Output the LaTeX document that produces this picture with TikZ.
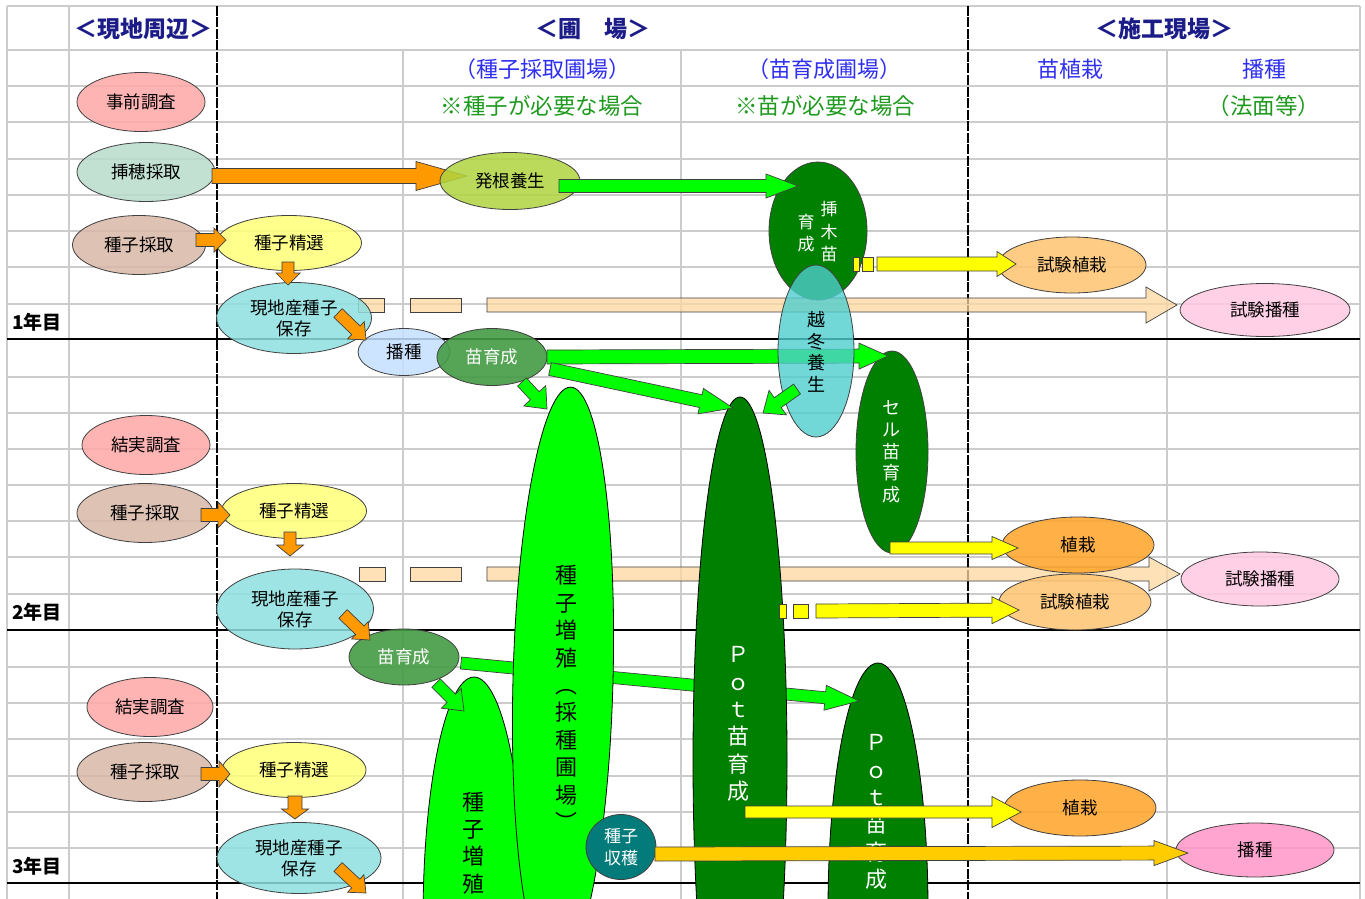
\documentclass[tikz,border=0pt]{standalone}
\usepackage{fontspec}
\setmainfont{Noto Sans CJK JP}
\usetikzlibrary{shapes.geometric,calc}
\definecolor{gridc}{HTML}{CCCCCC}
\definecolor{outl}{HTML}{404040}
\definecolor{cNavy}{HTML}{1C1C88}
\definecolor{cBlue}{HTML}{2F2FF0}
\definecolor{cNote}{HTML}{1E9A1E}
\definecolor{cPink}{HTML}{FFA8A8}
\definecolor{cSashi}{HTML}{B8DCCC}
\definecolor{cSaishu}{HTML}{D9B8A8}
\definecolor{cSeisen}{HTML}{FFFF77}
\definecolor{cHozon}{HTML}{8EE0E0}
\definecolor{cHashu}{HTML}{C4E0FF}
\definecolor{cNae}{HTML}{449B44}
\definecolor{cHakkon}{HTML}{B0D440}
\definecolor{cDark}{HTML}{008000}
\definecolor{cLime}{HTML}{00FF00}
\definecolor{cEttou}{HTML}{4FCDCD}
\definecolor{cTeal}{HTML}{037B7B}
\definecolor{cShikenS}{HTML}{FFC470}
\definecolor{cShoku}{HTML}{FFA428}
\definecolor{cShikenH}{HTML}{FFC8E2}
\definecolor{cHashuP}{HTML}{FF96C8}
\definecolor{cOrange}{HTML}{FF9900}
\definecolor{cYellow}{HTML}{FFFF00}
\definecolor{cGold}{HTML}{FFCC00}
\definecolor{cBeige}{HTML}{FFD7A0}
\newcommand{\barrow}[6]{%
  \path let \p1=(#2), \p2=(#3), \n1={atan2(\y2-\y1,\x2-\x1)}, \n2={veclen(\x2-\x1,\y2-\y1)} in
    \pgfextra{\xdef\bAng{\n1}\xdef\bLen{\n2}\xdef\bX{\x1}\xdef\bY{\y1}};
  \draw[#1, shift={(\bX,\bY)}, rotate=\bAng, x=1pt, y=1pt]
    (0,-#4) -- ({\bLen-#6},-#4) -- ({\bLen-#6},-#5) -- (\bLen,0) -- ({\bLen-#6},#5) -- ({\bLen-#6},#4) -- (0,#4) -- cycle;
}
\tikzset{
  gridl/.style={draw=gridc, line width=1.1pt},
  boldl/.style={draw=black, line width=2pt},
  dashl/.style={draw=black, line width=1.8pt, dash pattern=on 10pt off 1.5pt},
  hdr/.style={font=\fontsize{23}{27}\selectfont\bfseries, text=cNavy},
  subh/.style={font=\fontsize{22}{26}\selectfont, text=cBlue},
  note/.style={font=\fontsize{22.5}{26}\selectfont, text=cNote},
  yrl/.style={font=\fontsize{19}{22}\selectfont\bfseries},
  ov/.style={ellipse, draw=outl, line width=0.8pt, inner sep=0pt, fill opacity=0.85, text opacity=1, font=\fontsize{17.5}{21}\selectfont, align=center},
  big/.style={ellipse, draw=black, line width=0.8pt, inner sep=0pt},
  vt/.style={align=center, inner sep=0pt, font=\fontsize{22}{27.4}\selectfont},
  vts/.style={align=center, inner sep=0pt, font=\fontsize{18}{21.7}\selectfont},
  arr/.style={draw=outl, line width=0.7pt, line join=miter},
  arrO/.style={arr, fill=cOrange},
  arrG/.style={arr, fill=cLime},
  arrY/.style={arr, fill=cYellow},
  arrGold/.style={arr, fill=cGold},
  arrB/.style={arr, fill=cBeige, fill opacity=0.75},
  stripeY/.style={draw=outl, line width=0.7pt, fill=cYellow},
  stripeB/.style={draw=outl, line width=0.7pt, fill=cBeige, fill opacity=0.75}
}
\begin{document}
\begin{tikzpicture}[x=1pt,y=-1pt]
\useasboundingbox (0,0) rectangle (1365,899);
\fill[white] (0,0) rectangle (1365,899);
% grid
\foreach \yy in {6,50,86,122,159,195,231,267,304,377,413,449,485,521,557,594,667,703,739,776,812,848}
  \draw[gridl] (7,\yy) -- (1360,\yy);
\foreach \xx in {7,69,1360} \draw[gridl] (\xx,6) -- (\xx,899);
\foreach \xx in {403,681,1167} \draw[gridl] (\xx,50) -- (\xx,899);
\foreach \yy in {339,630,883} \draw[boldl] (7,\yy) -- (1360,\yy);
\foreach \xx in {217,968} \draw[dashl] (\xx,6) -- (\xx,899);
% headers
\node[hdr] (h1) at (143,29) {＜現地周辺＞};
\node[hdr] (h2) at (593,29) {＜圃　場＞};
\node[hdr] (h3) at (1164,29) {＜施工現場＞};
\node[subh] (s1) at (542,69) {（種子採取圃場）};
\node[subh] (s2) at (824,69) {（苗育成圃場）};
\node[subh] (s3) at (1070,69) {苗植栽};
\node[subh] (s4) at (1264,69) {播種};
\node[note] (n1) at (542,106) {※種子が必要な場合};
\node[note] (n2) at (825,106) {※苗が必要な場合};
\node[note] (n3) at (1264,106) {（法面等）};
\node[yrl] (y1) at (37,322) {1年目};
\node[yrl] (y2) at (37,612) {2年目};
\node[yrl] (y3) at (37,866) {3年目};
% coordinates
\coordinate (bg1s) at (487,305); \coordinate (bg1e) at (1177,305);
\coordinate (bg2s) at (487,574); \coordinate (bg2e) at (1180,574);
\coordinate (aAs) at (212,176); \coordinate (aAe) at (467,176);
\coordinate (aBs) at (559,186); \coordinate (aBe) at (798,186);
\coordinate (aCs) at (196,240); \coordinate (aCe) at (226,240);
\coordinate (aDs) at (288,262); \coordinate (aDe) at (288,285);
\coordinate (aEs) at (338,313); \coordinate (aEe) at (366,340);
\coordinate (aGs) at (877,264); \coordinate (aGe) at (1016,264);
\coordinate (aH1s) at (547,357); \coordinate (aH1e) at (888,356);
\coordinate (aH2s) at (550,369); \coordinate (aH2e) at (733,408);
\coordinate (aH3s) at (522,382); \coordinate (aH3e) at (547,409);
\coordinate (aIs) at (797,389); \coordinate (aIe) at (763,413);
\coordinate (aJs) at (890,548); \coordinate (aJe) at (1018,548);
\coordinate (aKs) at (816,611); \coordinate (aKe) at (1019,610);
\coordinate (aLs) at (201,515); \coordinate (aLe) at (230,515);
\coordinate (aMs) at (290,532); \coordinate (aMe) at (290,556);
\coordinate (aNs) at (343,614); \coordinate (aNe) at (370,640);
\coordinate (aOs) at (436,683); \coordinate (aOe) at (464,711);
\coordinate (aPs) at (461,663); \coordinate (aPe) at (859,701);
\coordinate (aQs) at (745,812); \coordinate (aQe) at (1021,812);
\coordinate (aRs) at (655,854); \coordinate (aRe) at (1188,853);
\coordinate (aSs) at (201,774); \coordinate (aSe) at (230,774);
\coordinate (aTs) at (295,796); \coordinate (aTe) at (295,819);
\coordinate (aUs) at (338,867); \coordinate (aUe) at (366,893);
% beige striped arrows
\draw[stripeB] (358,298) rectangle (384,312);
\draw[stripeB] (410,298) rectangle (461,312);
\barrow{arrB}{bg1s}{bg1e}{7}{18}{31}
\draw[stripeB] (359,567) rectangle (385,581);
\draw[stripeB] (410,567) rectangle (461,581);
\barrow{arrB}{bg2s}{bg2e}{7}{17}{31}
% column 1 ellipses
\node[ov, fill=cPink, minimum width=128, minimum height=59] (jizen) at (141,102) {事前調査};
\node[ov, fill=cSashi, minimum width=138, minimum height=59] (sashiho) at (146,172) {挿穂採取};
\node[ov, fill=cSaishu, minimum width=133, minimum height=59] (saishu1) at (139,245) {種子採取};
\node[ov, fill=cSeisen, minimum width=145, minimum height=55] (seisen1) at (289,243) {種子精選};
\node[ov, fill=cHozon, minimum width=155, minimum height=71] (hozon1) at (294,318) {現地産種子\\保存};
\node[ov, fill=cHashu, minimum width=92, minimum height=47] (hashu1) at (404,352) {播種};
\node[ov, fill=cNae, fill opacity=0.9, text=white, minimum width=110, minimum height=57] (nae1) at (492,357) {苗育成};
\node[ov, fill=cPink, minimum width=128, minimum height=59] (kekka2) at (146,445) {結実調査};
\node[ov, fill=cSaishu, minimum width=136, minimum height=59] (saishu2) at (145,513) {種子採取};
\node[ov, fill=cSeisen, minimum width=145, minimum height=55] (seisen2) at (294,511) {種子精選};
\node[ov, fill=cHozon, minimum width=157, minimum height=80] (hozon2) at (295,609) {現地産種子\\保存};
\node[ov, fill=cNae, fill opacity=0.9, text=white, minimum width=110, minimum height=56] (nae2) at (404,657) {苗育成};
\node[ov, fill=cPink, minimum width=126, minimum height=59] (kekka3) at (150,707) {結実調査};
\node[ov, fill=cSaishu, minimum width=136, minimum height=59] (saishu3) at (145,772) {種子採取};
\node[ov, fill=cSeisen, minimum width=144, minimum height=55] (seisen3) at (294,770) {種子精選};
\node[ov, fill=cHozon, minimum width=164, minimum height=71] (hozon3) at (299,858) {現地産種子\\保存};
% orange small arrows
\barrow{arrO}{aCs}{aCe}{6.5}{12}{12}
\barrow{arrO}{aDs}{aDe}{6}{12}{12}
\barrow{arrO}{aEs}{aEe}{6}{12}{14}
\barrow{arrO}{aLs}{aLe}{6.5}{13}{12}
\barrow{arrO}{aMs}{aMe}{6}{13.5}{11}
\barrow{arrO}{aNs}{aNe}{6}{12}{14}
\barrow{arrO}{aSs}{aSe}{6.5}{13}{11}
\barrow{arrO}{aTs}{aTe}{7}{13.5}{10}
\barrow{arrO}{aUs}{aUe}{6}{12}{14}
% nursery shapes
\node[ov, fill=cDark, fill opacity=1, minimum width=98, minimum height=138] (sashiki) at (818,231) {};
\node[vts, font=\fontsize{17}{22.5}\selectfont, text=white] (sashikiT1) at (829,232) {挿\\木\\苗};
\node[vts, font=\fontsize{17}{22.5}\selectfont, text=white] (sashikiT2) at (806,233) {育\\成};
\node[ov, fill=cDark, fill opacity=1, minimum width=72, minimum height=202] (cell) at (892,452) {};
\node[vts, text=white] (cellT) at (891,452) {セ\\ル\\苗\\育\\成};
\barrow{arrO}{aAs}{aAe}{7.5}{14.5}{51}
\node[ov, fill=cHakkon, minimum width=140, minimum height=57] (hakkon) at (510,181) {発根養生};
\barrow{arrG}{aBs}{aBe}{6.5}{12}{32}
\barrow{arrG}{aH1s}{aH1e}{7}{13}{29}
\node[ov, fill=cEttou, fill opacity=0.8, minimum width=76, minimum height=172] (ettou) at (816,351) {};
\node[vts] (ettouT) at (816,352) {越\\冬\\養\\生};
% big shapes
\node[big, fill=cDark, minimum width=100, minimum height=494] (pot3) at (878,910) {};
\node[vt, text=white] (pot3T) at (876,812) {Ｐ\\ｏ\\ｔ\\苗\\育\\成};
\barrow{arrG}{aPs}{aPe}{6}{12.5}{34}
\node[big, fill=cLime, minimum width=102, minimum height=486] (zoshoku3) at (474,920) {};
\node[vt] (zoshoku3T) at (473,843) {種\\子\\増\\殖};
\node[big, fill=cLime, minimum width=100, minimum height=586, rotate=-1.5] (zoshoku) at (563,680) {};
\node[vt] (zoshokuT) at (566,698) {種\\子\\増\\殖\\︵\\採\\種\\圃\\場\\︶};
\node[big, fill=cDark, minimum width=94, minimum height=726] (pot1) at (740,760) {};
\node[vt, text=white] (pot1T) at (738,724) {Ｐ\\ｏ\\ｔ\\苗\\育\\成};
\barrow{arrG}{aH2s}{aH2e}{6.5}{13}{33}
\barrow{arrG}{aH3s}{aH3e}{6}{15}{18}
\barrow{arrG}{aIs}{aIe}{6}{15}{18}
\barrow{arrG}{aOs}{aOe}{6}{14}{18}
\node[ov, fill=cTeal, fill opacity=1, text=white, minimum width=70, minimum height=65, font=\fontsize{17}{22}\selectfont] (shushu) at (621,847) {種子\\収穫};
% site ellipses
\node[ov, fill=cShikenS, minimum width=148, minimum height=56] (shikenS1) at (1072,265) {試験植栽};
\node[ov, fill=cShikenH, minimum width=170, minimum height=53] (shikenH1) at (1265,310) {試験播種};
\node[ov, fill=cShoku, minimum width=152, minimum height=56] (shoku2) at (1078,545) {植栽};
\node[ov, fill=cShikenS, minimum width=152, minimum height=56] (shikenS2) at (1075,602) {試験植栽};
\node[ov, fill=cShikenH, minimum width=158, minimum height=54] (shikenH2) at (1260,579) {試験播種};
\node[ov, fill=cShoku, minimum width=152, minimum height=56] (shoku3) at (1080,808) {植栽};
\node[ov, fill=cHashuP, minimum width=158, minimum height=54] (hashu3) at (1255,850) {播種};
% yellow arrows
\draw[stripeY] (853,257) rectangle (859,271);
\draw[stripeY] (862,257) rectangle (873,271);
\barrow{arrY}{aGs}{aGe}{7}{12.5}{19}
\barrow{arrY}{aJs}{aJe}{6}{11.5}{26}
\draw[stripeY] (779,604) rectangle (786,618);
\draw[stripeY] (793,604) rectangle (808,618);
\barrow{arrY}{aKs}{aKe}{7}{13.5}{27}
\barrow{arrY}{aQs}{aQe}{6}{15.5}{29}
\barrow{arrGold}{aRs}{aRe}{7}{12.5}{34}
\end{tikzpicture}
\end{document}
